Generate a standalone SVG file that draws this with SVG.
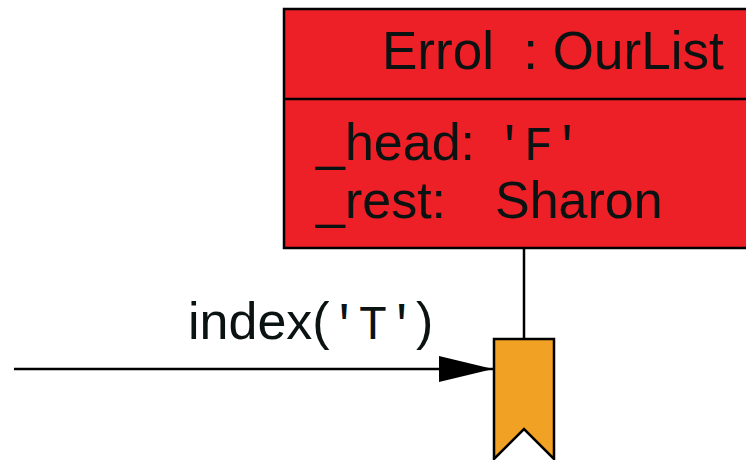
<svg xmlns="http://www.w3.org/2000/svg" width="746" height="460" viewBox="0 0 746 460">
  <style>
    .sans { font-family: "Liberation Sans", Arial, sans-serif; font-size: 52px; fill: #0a1212; }
    .title { font-size: 53px; }
    .mono { font-family: "Liberation Mono", "Courier New", monospace; font-size: 48px; fill: #0a1212; }
    .edge { stroke: #000; stroke-width: 2.5; fill: none; }
  </style>
  <defs>
    <marker id="arrow" markerUnits="userSpaceOnUse" markerWidth="56" markerHeight="28" refX="54" refY="13" orient="auto">
      <path d="M0,0 L54,13 L0,26 Z" fill="#000"/>
    </marker>
  </defs>

  <!-- object box: Errol : OurList -->
  <g id="errol">
    <rect x="284" y="9" width="480" height="239" fill="#ED1F27" stroke="#000" stroke-width="2.5"/>
    <line x1="284" y1="99" x2="764" y2="99" stroke="#000" stroke-width="2.5"/>
    <text class="sans title" x="382" y="69" xml:space="preserve">Errol  : OurList</text>
    <text class="sans" x="316" y="160">_head:</text>
    <text class="mono" x="495" y="160">'F'</text>
    <text class="sans" x="316" y="218">_rest:</text>
    <text class="sans" x="495" y="218">Sharon</text>
  </g>

  <!-- bookmark-shaped pointer node -->
  <g id="marker-node">
    <polygon points="494,339 554,339 554,459 524,429 494,459" fill="#F1A124" stroke="#000" stroke-width="2.5" stroke-linejoin="miter"/>
  </g>

  <!-- connectors -->
  <g id="connectors">
    <line class="edge" x1="524" y1="248" x2="524" y2="339"/>
    <line class="edge" x1="14" y1="369" x2="493" y2="369" marker-end="url(#arrow)"/>
    <text class="sans" x="188" y="339">index(<tspan class="mono">'T'</tspan>)</text>
  </g>
</svg>
